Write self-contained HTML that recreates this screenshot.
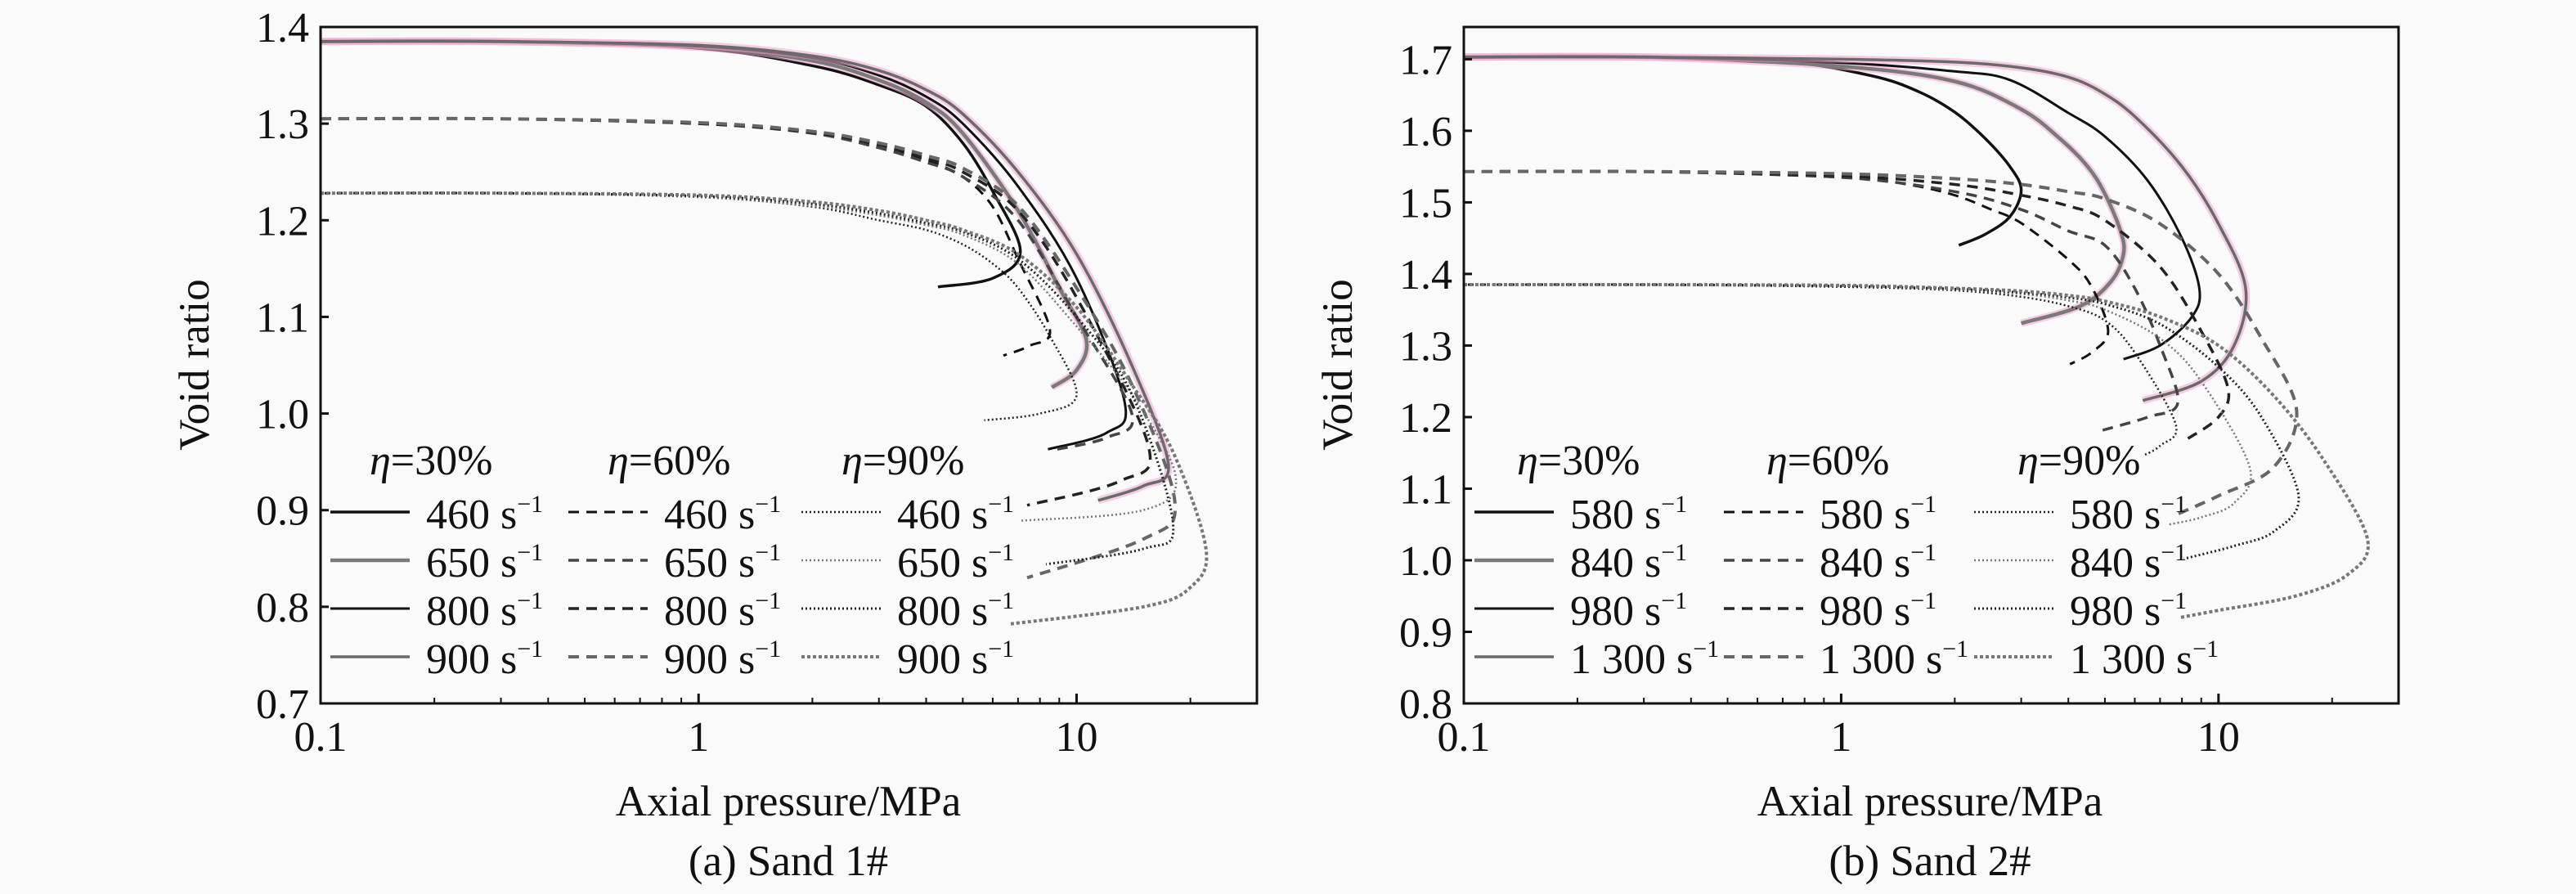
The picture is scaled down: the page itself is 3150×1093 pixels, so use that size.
<!DOCTYPE html>
<html><head><meta charset="utf-8">
<style>
html,body{margin:0;padding:0;background:#fafafa;}
svg{display:block;font-family:"Liberation Serif",serif;}
</style></head>
<body>
<svg id="fig" width="3150" height="1093" viewBox="0 0 3150 1093" xmlns="http://www.w3.org/2000/svg">
<rect x="0" y="0" width="3150" height="1093" fill="#fafafa"/>
<g id="panelA"></g>
<g id="panelB"></g>
</svg>
<script>
// ---------- Data: Sand 1# ----------
const yTicksA = [0.7,0.8,0.9,1.0,1.1,1.2,1.3,1.4];
const yTickLabelsA = ["0.7","0.8","0.9","1.0","1.1","1.2","1.3","1.4"];
const xTicks = [0.1,1,10];
const xTickLabels = ["0.1","1","10"];
const ratesA = ["460","650","800","900"];
const ratesB = ["580","840","980","1 300"];
const etaLabels = ["30%","60%","90%"];

const a30_460_p=[0.1,0.3,1,2,3,4,5,6,7.1,6,4.3];
const a30_460_e=[1.385,1.385,1.378,1.36,1.34,1.318,1.28,1.23,1.168,1.14,1.131];
const a30_650_p=[0.1,0.3,1,2,3,4,5,7,9,10.6,10,8.6];
const a30_650_e=[1.385,1.385,1.379,1.365,1.345,1.322,1.29,1.21,1.13,1.077,1.045,1.027];
const a30_800_p=[0.1,0.3,1,2,3,4,5,7,10,13.4,12,8.4];
const a30_800_e=[1.385,1.385,1.38,1.368,1.35,1.328,1.3,1.235,1.14,1.012,0.98,0.963];
const a30_900_p=[0.1,0.3,1,2,3,4,5,7,10,14,17.5,15,11.4];
const a30_900_e=[1.385,1.385,1.381,1.37,1.355,1.335,1.31,1.25,1.165,1.05,0.947,0.925,0.91];
const a60_460_p=[0.1,0.3,1,2,3,4,5,6,7,8.5,7.5,6.4];
const a60_460_e=[1.305,1.305,1.3,1.29,1.275,1.262,1.245,1.214,1.16,1.087,1.07,1.06];
const a60_650_p=[0.1,0.3,1,2,3,4,5,7,10,14,12,8.6];
const a60_650_e=[1.305,1.305,1.3,1.29,1.275,1.26,1.245,1.2,1.1,1.0,0.975,0.962];
const a60_800_p=[0.1,0.3,1,2,3,4,5,7,10,15.5,13,7.4];
const a60_800_e=[1.305,1.305,1.3,1.291,1.278,1.264,1.25,1.21,1.12,0.966,0.93,0.905];
const a60_900_p=[0.1,0.3,1,2,3,4,5,7,10,14,18.2,15,7.4];
const a60_900_e=[1.305,1.305,1.301,1.292,1.28,1.267,1.254,1.215,1.13,1.03,0.908,0.87,0.83];
const a90_460_p=[0.1,0.3,1,2,3,4,5,6,7,8.5,10,8,5.7];
const a90_460_e=[1.228,1.228,1.224,1.214,1.2,1.19,1.175,1.155,1.13,1.08,1.019,1.0,0.993];
const a90_650_p=[0.1,0.3,1,2,3,4,5,7,10,14,18.3,15,7.1];
const a90_650_e=[1.228,1.228,1.224,1.215,1.205,1.195,1.185,1.155,1.09,1.02,0.934,0.9,0.889];
const a90_800_p=[0.1,0.3,1,2,3,4,5,7,10,14,18,15,8.3];
const a90_800_e=[1.228,1.228,1.225,1.217,1.207,1.197,1.188,1.16,1.1,1.02,0.886,0.86,0.844];
const a90_900_p=[0.1,0.3,1,2,3,4,5,7,10,14,18,22,20,15,6.6];
const a90_900_e=[1.228,1.228,1.226,1.219,1.21,1.2,1.19,1.165,1.11,1.03,0.96,0.86,0.82,0.8,0.782];

// ---------- Data: Sand 2# ----------
const yTicksB = [0.8,0.9,1.0,1.1,1.2,1.3,1.4,1.5,1.6,1.7];
const yTickLabelsB = ["0.8","0.9","1.0","1.1","1.2","1.3","1.4","1.5","1.6","1.7"];

const b30_580_p=[0.1,0.3,0.7,1.2,1.6,2,2.4,2.8,3.0,2.8,2.4,2.05];
const b30_580_e=[1.703,1.703,1.697,1.677,1.655,1.626,1.59,1.55,1.517,1.48,1.455,1.44];
const b30_840_p=[0.1,0.3,1,2,3,3.8,4.5,5.0,5.5,5.6,5.2,4.3,3.0];
const b30_840_e=[1.703,1.703,1.69,1.669,1.63,1.589,1.55,1.512,1.46,1.428,1.39,1.355,1.331];
const b30_980_p=[0.1,0.3,1,2,2.8,4,5,6.5,8,8.9,8.5,7,5.6];
const b30_980_e=[1.703,1.703,1.695,1.683,1.671,1.625,1.592,1.53,1.45,1.379,1.34,1.3,1.281];
const b30_1300_p=[0.1,0.3,1,2,3,4,4.9,6,8,10,11.8,11,9,6.3];
const b30_1300_e=[1.703,1.703,1.7,1.696,1.688,1.675,1.654,1.62,1.55,1.47,1.38,1.3,1.25,1.223];
const b60_580_p=[0.1,0.3,1,1.5,2,2.5,3,4,4.6,5.1,4.6,4.04];
const b60_580_e=[1.543,1.543,1.535,1.525,1.51,1.49,1.471,1.42,1.383,1.32,1.29,1.274];
const b60_840_p=[0.1,0.3,1,2,3,4,5,6,7,7.8,6.5,4.8];
const b60_840_e=[1.543,1.543,1.535,1.515,1.49,1.46,1.44,1.38,1.3,1.22,1.2,1.18];
const b60_980_p=[0.1,0.3,1,2,3,4,5,7,9,10.6,10,8.3];
const b60_980_e=[1.543,1.543,1.537,1.525,1.51,1.495,1.475,1.41,1.32,1.24,1.2,1.17];
const b60_1300_p=[0.1,0.3,1,2,3,4,5,7,10,13,16.1,14,10,7.6];
const b60_1300_e=[1.543,1.543,1.54,1.533,1.525,1.515,1.505,1.47,1.4,1.31,1.21,1.13,1.09,1.062];
const b90_580_p=[0.1,0.3,1,2,3,4,5,6,7.7,7,6.3];
const b90_580_e=[1.385,1.385,1.382,1.377,1.368,1.355,1.335,1.29,1.19,1.16,1.146];
const b90_840_p=[0.1,0.3,1,2,3,4,5,7,9,12.1,11,9,7.4];
const b90_840_e=[1.385,1.385,1.383,1.378,1.372,1.363,1.35,1.31,1.25,1.13,1.08,1.06,1.05];
const b90_980_p=[0.1,0.3,1,2,3,4,5,7,10,13,16.3,14,11,8.1];
const b90_980_e=[1.385,1.385,1.383,1.379,1.374,1.367,1.358,1.33,1.27,1.2,1.09,1.04,1.02,1.002];
const b90_1300_p=[0.1,0.3,1,2,3,4,5,7,10,14,19,24.8,22,16,10,7.9];
const b90_1300_e=[1.385,1.385,1.384,1.38,1.376,1.37,1.362,1.34,1.3,1.23,1.14,1.03,0.98,0.95,0.93,0.92];

const NS="http://www.w3.org/2000/svg";
function mk(tag,attrs,parent){const el=document.createElementNS(NS,tag);for(const k in attrs)el.setAttribute(k,attrs[k]);parent.appendChild(el);return el;}

// styles per rate index (0..3) and eta index (0..2)
const solidStyles=[{c:"#111",w:3.5,pink:false},{c:"#7a7a7a",w:4.5,pink:true},{c:"#111",w:3,pink:false},{c:"#6a6a6a",w:3.5,pink:true}];
const dashStyles=[{c:"#111",w:3,d:"13 9"},{c:"#444",w:3.5,d:"13 9"},{c:"#222",w:3.5,d:"13 9"},{c:"#666",w:4,d:"13 9"}];
const dotStyles=[{c:"#222",w:2.5,d:"2 3"},{c:"#777",w:2.5,d:"2 3"},{c:"#222",w:3,d:"2 3"},{c:"#777",w:4,d:"4 3"}];

function drawPanel(g,cfg){
  const {x0,x1,y0,y1,ymin,ymax,yTicks,yTickLabels,series,rates,legend,caption,titleX}=cfg;
  const xmin=0.1,xmax=30;
  const sx=p=>x0+(Math.log10(p)-Math.log10(xmin))/(Math.log10(xmax)-Math.log10(xmin))*(x1-x0);
  const sy=e=>y1-(e-ymin)/(ymax-ymin)*(y1-y0);
  // clip
  const cid="clip"+cfg.id;
  const defs=mk("defs",{},g);
  const cp=mk("clipPath",{id:cid},defs);
  mk("rect",{x:x0,y:y0,width:x1-x0,height:y1-y0},cp);
  // curves
  const cg=mk("g",{"clip-path":"url(#"+cid+")"},g);
  
  
  series.forEach(s=>{
    const pts=s.p.map((p,i)=>[sx(p),sy(s.e[i])]);
    let d="M"+pts[0][0].toFixed(1)+","+pts[0][1].toFixed(1);
    for(let i=0;i<pts.length-1;i++){
      const p0=pts[i-1]||pts[i],p1=pts[i],p2=pts[i+1],p3=pts[i+2]||p2;
      const c1=[p1[0]+(p2[0]-p0[0])/6,p1[1]+(p2[1]-p0[1])/6];
      const c2=[p2[0]-(p3[0]-p1[0])/6,p2[1]-(p3[1]-p1[1])/6];
      d+=" C"+c1[0].toFixed(1)+","+c1[1].toFixed(1)+" "+c2[0].toFixed(1)+","+c2[1].toFixed(1)+" "+p2[0].toFixed(1)+","+p2[1].toFixed(1);
    }
    if(s.st.pink){
      const h=mk("path",{d:d,fill:"none",stroke:"#f2a6d2","stroke-width":9,"stroke-opacity":0.55},cg);
      
      
    }
    const a={d:d,fill:"none",stroke:s.st.c,"stroke-width":s.st.w};
    if(s.st.d)a["stroke-dasharray"]=s.st.d;
    const path=mk("path",a,cg);
    
    
  });
  // frame
  const fr=mk("rect",{x:x0,y:y0,width:x1-x0,height:y1-y0,fill:"none",stroke:"#111","stroke-width":3},g);
  
  
  // y ticks
  yTicks.forEach((v,i)=>{
    const y=sy(v);
    const t=mk("line",{x1:x0,x2:x0+10,y1:y,y2:y,stroke:"#111","stroke-width":3},g);
    
    
    const tx=mk("text",{x:x0-14,y:y+18,"text-anchor":"end","font-size":52,fill:"#111"},g);
    tx.textContent=yTickLabels[i];
    
    
  });
  // x ticks
  xTicks.forEach((v,i)=>{
    const x=sx(v);
    const t=mk("line",{x1:x,x2:x,y1:y1,y2:y1-12,stroke:"#111","stroke-width":3},g);
    
    
    const tx=mk("text",{x:x,y:y1+58,"text-anchor":"middle","font-size":52,fill:"#111"},g);
    tx.textContent=xTickLabels[i];
    
    
  });
  for(let dec=0.1;dec<20;dec*=10){for(let k=2;k<=9;k++){const v=dec*k;if(v>=xmax)continue;
    const x=sx(v);
    const t=mk("line",{x1:x,x2:x,y1:y1,y2:y1-7,stroke:"#111","stroke-width":2},g);
    
    
  }}
  // titles
  const xt=mk("text",{x:titleX,y:997,"text-anchor":"middle","font-size":53,fill:"#111"},g);
  xt.textContent="Axial pressure/MPa";
  
  
  const yt=mk("text",{x:0,y:0,"text-anchor":"middle","font-size":53,fill:"#111",transform:"translate("+(x0-137)+","+446+") rotate(-90)"},g);
  yt.textContent="Void ratio";
  
  
  const cap=mk("text",{x:titleX,y:1070,"text-anchor":"middle","font-size":53,fill:"#111"},g);
  cap.textContent=caption;
  
  
  // legend
  const lg=mk("g",{},g);
  
  
  const rowsY=[626,685,744,803];
  const styleSets=[solidStyles,dashStyles,dotStyles];
  legend.cols.forEach((cx,ci)=>{
    const h=mk("text",{x:legend.heads[ci],y:580,"font-size":52,fill:"#111"},lg);
    const ts=mk("tspan",{"font-style":"italic"},h);ts.textContent="η";
    const ts2=mk("tspan",{},h);ts2.textContent="="+etaLabels[ci];
    
    
    rates.forEach((r,ri)=>{
      const st=styleSets[ci][ri];
      const la={x1:cx,x2:cx+97,y1:rowsY[ri],y2:rowsY[ri],stroke:st.c,"stroke-width":st.w};
      if(st.d)la["stroke-dasharray"]=st.d;
      const ln=mk("line",la,lg);
      
      
      const t=mk("text",{x:cx+117,y:rowsY[ri]+20,"font-size":52,fill:"#111"},lg);
      const a1=mk("tspan",{},t);a1.textContent=r+" s";
      const a2=mk("tspan",{"font-size":30,dy:-20},t);a2.textContent="−1";
      
      
    });
  });
}

const sA=[];
[[a30_460_p,a30_460_e],[a30_650_p,a30_650_e],[a30_800_p,a30_800_e],[a30_900_p,a30_900_e]].forEach((s,i)=>sA.push({p:s[0],e:s[1],st:solidStyles[i],name:"curve-eta30-"+ratesA[i]}));
[[a60_460_p,a60_460_e],[a60_650_p,a60_650_e],[a60_800_p,a60_800_e],[a60_900_p,a60_900_e]].forEach((s,i)=>sA.push({p:s[0],e:s[1],st:dashStyles[i],name:"curve-eta60-"+ratesA[i]}));
[[a90_460_p,a90_460_e],[a90_650_p,a90_650_e],[a90_800_p,a90_800_e],[a90_900_p,a90_900_e]].forEach((s,i)=>sA.push({p:s[0],e:s[1],st:dotStyles[i],name:"curve-eta90-"+ratesA[i]}));
const sB=[];
[[b30_580_p,b30_580_e],[b30_840_p,b30_840_e],[b30_980_p,b30_980_e],[b30_1300_p,b30_1300_e]].forEach((s,i)=>sB.push({p:s[0],e:s[1],st:solidStyles[i],name:"curve-eta30-"+ratesB[i].replace(" ","")}));
[[b60_580_p,b60_580_e],[b60_840_p,b60_840_e],[b60_980_p,b60_980_e],[b60_1300_p,b60_1300_e]].forEach((s,i)=>sB.push({p:s[0],e:s[1],st:dashStyles[i],name:"curve-eta60-"+ratesB[i].replace(" ","")}));
[[b90_580_p,b90_580_e],[b90_840_p,b90_840_e],[b90_980_p,b90_980_e],[b90_1300_p,b90_1300_e]].forEach((s,i)=>sB.push({p:s[0],e:s[1],st:dotStyles[i],name:"curve-eta90-"+ratesB[i].replace(" ","")}));

drawPanel(document.getElementById("panelA"),{id:"A",x0:392,x1:1537,y0:33,y1:860,ymin:0.7,ymax:1.4,
  yTicks:yTicksA,yTickLabels:yTickLabelsA,series:sA,rates:ratesA,
  legend:{cols:[404,695,980],heads:[452,743,1029]},caption:"(a) Sand 1#",titleX:964});
drawPanel(document.getElementById("panelB"),{id:"B",x0:1790,x1:2933,y0:33,y1:860,ymin:0.8,ymax:1.745,
  yTicks:yTicksB,yTickLabels:yTickLabelsB,series:sB,rates:ratesB,
  legend:{cols:[1803,2108,2414],heads:[1855,2160,2467]},caption:"(b) Sand 2#",titleX:2360});
</script>
</body></html>
